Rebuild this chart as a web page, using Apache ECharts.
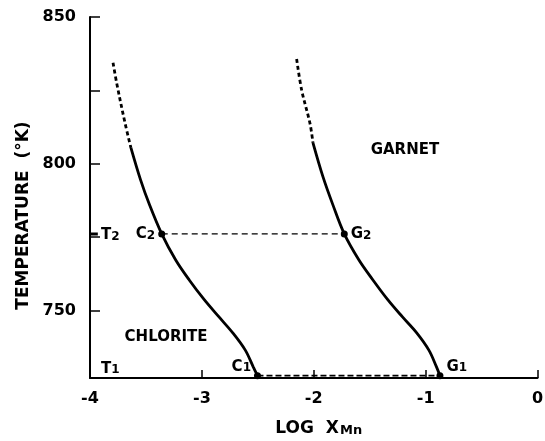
<!DOCTYPE html>
<html>
<head>
<meta charset="utf-8">
<script src="https://cdn.jsdelivr.net/npm/echarts@6/dist/echarts.min.js"></script>
<style>
  html, body { margin: 0; padding: 0; background: #fff; }
  #chart { width: 545px; height: 441px; }
</style>
</head>
<body>
<div id="chart"></div>
<script>
// Axis ticks and labels
const xTicks = [-4, -3, -2, -1, 0];
const yTicks = [750, 775, 800, 825, 850];
const yLabels = [750, 800, 850];

// Tie-line temperatures
const T1 = 727.8;
const T2 = 776.1;

// Chlorite composition curve: [log X_Mn, T (°K)]
const chloriteDashed = [[-3.794, 834.4], [-3.761, 827.4], [-3.687, 813.9], [-3.634, 805.4]];
const chloriteSolid = [[-3.634, 805.4], [-3.548, 794.5], [-3.468, 786.0], [-3.359, T2], [-3.234, 767.2],
  [-3.113, 760.4], [-2.977, 753.6], [-2.847, 747.8], [-2.722, 742.3], [-2.612, 736.5], [-2.541, 730.8], [-2.503, T1]];

// Garnet composition curve
const garnetDashed = [[-2.153, 835.7], [-2.108, 825.1], [-2.034, 813.8], [-2.007, 807.1]];
const garnetSolid = [[-2.007, 807.1], [-1.918, 795.6], [-1.828, 785.9], [-1.727, T2], [-1.596, 767.2],
  [-1.471, 760.4], [-1.337, 753.6], [-1.207, 747.8], [-1.078, 742.3], [-0.971, 736.5], [-0.903, 730.8], [-0.872, T1]];

// Coexisting compositions
const pointC1 = [-2.503, T1];
const pointG1 = [-0.872, T1];
const pointC2 = [-3.359, T2];
const pointG2 = [-1.727, T2];

// Field names
const fieldLabels = [
  { name: 'CHLORITE', value: [-3.32, 741.0] },
  { name: 'GARNET', value: [-1.185, 804.7] }
];

const FONT = 'DejaVu Sans';
const INK = '#000';
const plain = { textBorderWidth: 0, textShadowBlur: 0 };

const subRich = {
  m: Object.assign({ fontFamily: FONT, fontWeight: 'bold', fontSize: 15, lineHeight: 15, color: INK, verticalAlign: 'top' }, plain),
  s: Object.assign({ fontFamily: FONT, fontWeight: 'bold', fontSize: 12, lineHeight: 12, color: INK, verticalAlign: 'bottom', padding: [3, 0, 0, 0] }, plain)
};

function pointSeries(pt, main, sub, position, offset) {
  return {
    type: 'scatter',
    data: [pt],
    symbol: 'circle',
    symbolSize: 7,
    itemStyle: { color: INK, opacity: 1 },
    z: 5,
    silent: true,
    label: Object.assign({
      show: true,
      position: position,
      distance: 3,
      offset: offset,
      color: INK,
      formatter: '{m|' + main + '}{s|' + sub + '}',
      rich: subRich
    }, plain)
  };
}

function curve(data, dashed) {
  return {
    type: 'line',
    data: data,
    smooth: 0.35,
    showSymbol: false,
    silent: true,
    lineStyle: { color: INK, width: 2.8, type: dashed ? [4, 3] : 'solid', cap: 'butt' }
  };
}

const chart = echarts.init(document.getElementById('chart'));

chart.setOption({
  backgroundColor: '#fff',
  animation: false,
  grid: { left: 90, right: 7.5, top: 17, bottom: 63, containLabel: false, outerBoundsMode: 'none' },
  xAxis: {
    type: 'value',
    min: -4,
    max: 0,
    name: '{m|LOG  X}{s|Mn}',
    nameLocation: 'middle',
    nameGap: 42,
    nameTextStyle: {
      padding: [0, 0, 0, 10],
      rich: {
        m: Object.assign({ fontFamily: FONT, fontWeight: 'bold', fontSize: 17, lineHeight: 17, color: INK, verticalAlign: 'top' }, plain),
        s: Object.assign({ fontFamily: FONT, fontWeight: 'bold', fontSize: 13, lineHeight: 13, color: INK, verticalAlign: 'bottom', padding: [6, 0, 0, 1] }, plain)
      }
    },
    splitLine: { show: false },
    axisLine: { show: true, onZero: false, lineStyle: { color: INK, width: 2 } },
    axisTick: { show: true, inside: true, length: 8, customValues: xTicks.slice(1), lineStyle: { color: INK, width: 1.5 } },
    axisLabel: {
      customValues: xTicks,
      margin: 13,
      color: INK,
      fontFamily: FONT,
      fontWeight: 'bold',
      fontSize: 16
    }
  },
  yAxis: {
    type: 'value',
    min: 727,
    max: 850,
    name: 'TEMPERATURE  (°K)',
    nameLocation: 'middle',
    nameRotate: 90,
    nameGap: 58,
    nameTextStyle: { color: INK, fontFamily: FONT, fontWeight: 'bold', fontSize: 17, padding: [0, 36, 0, 0] },
    splitLine: { show: false },
    axisLine: { show: true, onZero: false, lineStyle: { color: INK, width: 2 } },
    axisTick: { show: true, inside: true, length: 10, customValues: yTicks, lineStyle: { color: INK, width: 1.5 } },
    axisLabel: {
      customValues: yLabels,
      margin: 14,
      color: INK,
      fontFamily: FONT,
      fontWeight: 'bold',
      fontSize: 16
    }
  },
  series: [
    curve(chloriteDashed, true),
    curve(chloriteSolid, false),
    curve(garnetDashed, true),
    curve(garnetSolid, false),
    {
      type: 'line',
      data: [pointC2, pointG2],
      showSymbol: false,
      silent: true,
      lineStyle: { color: INK, width: 1.3, type: [6, 4] }
    },
    {
      type: 'line',
      data: [pointC1, pointG1],
      showSymbol: false,
      silent: true,
      lineStyle: { color: INK, width: 1.6, type: [6, 3] }
    },
    // T2 marker on the temperature axis
    {
      type: 'line',
      data: [[-4, T2], [-3.93, T2]],
      showSymbol: false,
      silent: true,
      lineStyle: { color: INK, width: 3 }
    },
    pointSeries(pointC2, 'C', '2', 'left', [0, 0]),
    pointSeries(pointG2, 'G', '2', 'right', [0, 0]),
    pointSeries(pointC1, 'C', '1', 'left', [0, -9]),
    pointSeries(pointG1, 'G', '1', 'right', [0, -9]),
    {
      type: 'scatter',
      data: [
        { value: [-4, T2], name: '2', label: { offset: [0, 1] } },
        { value: [-4, T1], name: '1', label: { offset: [0, -7] } }
      ],
      symbolSize: 0,
      itemStyle: { opacity: 1 },
      silent: true,
      label: Object.assign({
        show: true,
        position: 'right',
        distance: 11,
        color: INK,
        formatter: '{m|T}{s|{b}}',
        rich: subRich
      }, plain)
    },
    {
      type: 'scatter',
      data: fieldLabels,
      symbolSize: 0,
      itemStyle: { opacity: 1 },
      silent: true,
      label: Object.assign({
        show: true,
        position: 'inside',
        formatter: '{b}',
        color: INK,
        fontFamily: FONT,
        fontWeight: 'bold',
        fontSize: 15
      }, plain)
    }
  ]
});
</script>
</body>
</html>
